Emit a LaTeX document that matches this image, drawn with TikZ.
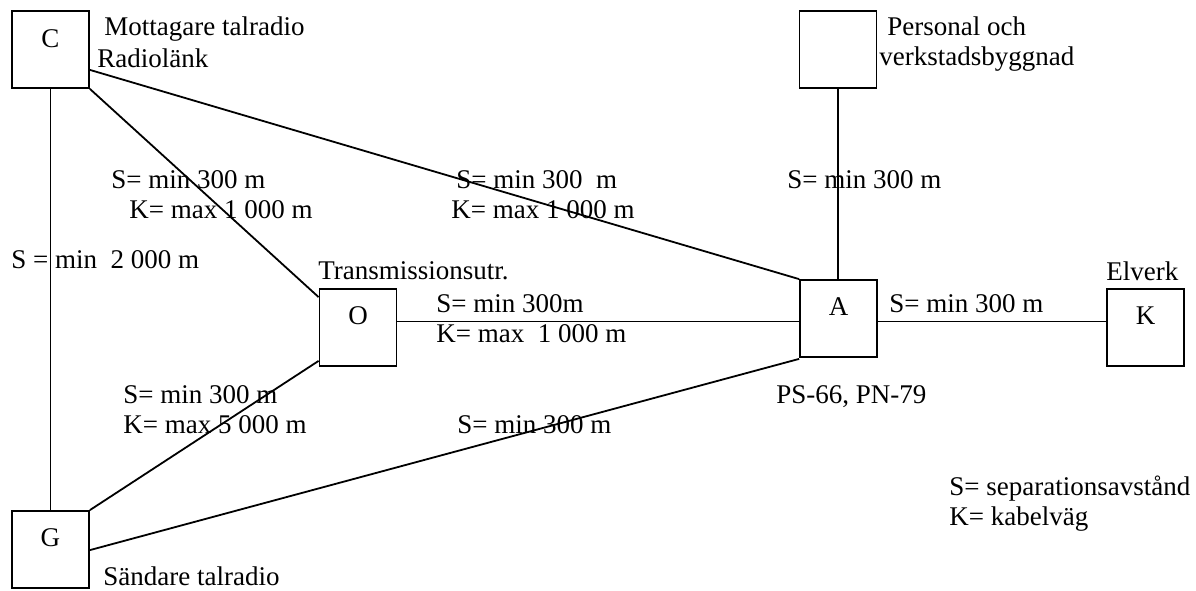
\documentclass[tikz,border=0pt]{standalone}
\usepackage{fontspec}
\setmainfont{Liberation Serif}
\usetikzlibrary{calc}
\begin{document}
\begin{tikzpicture}[x=0.5pt,y=-0.5pt,
  every node/.style={font=\fontsize{13.5}{16}\selectfont},
  box/.style={draw, line width=0.9pt, minimum width=38.5pt, minimum height=38.5pt, inner sep=0pt},
  lbl/.style={anchor=base west, inner sep=0pt},
  tag/.style={anchor=base, inner sep=0pt},
  wire/.style={line width=0.9pt}]
\useasboundingbox (0,0) rectangle (1196,590);

% stations
\node[box] (C) at (50.5,49.5) {};
\node[box] (P) at (838,49.5) {};
\node[box] (O) at (358,327.5) {};
\node[box] (A) at (838.5,318.5) {};
\node[box] (K) at (1145.5,327.5) {};
\node[box] (G) at (50.5,549.5) {};

% letters inside the boxes
\node[tag] (Ct) at ($(C.north)+(0,37)$) {C};
\node[tag] (Ot) at ($(O.north)+(0,36)$) {O};
\node[tag] (At) at ($(A.north)+(0,36)$) {A};
\node[tag] (Kt) at ($(K.north)+(0,36)$) {K};
\node[tag] (Gt) at ($(G.north)+(0,36)$) {G};

% connections
\draw[wire] (C.south) -- (G.north);
\draw[wire] (C.south east) -- ($(O.north west)+(0,9)$);
\draw[wire] ($(C.south east)+(0,-19)$) -- (A.north west);
\draw[wire] (G.north east) -- ($(O.south west)+(0,-6)$);
\draw[wire] ($(G.north east)+(0,40)$) -- ($(A.south west)+(0,1)$);
\draw[wire] (P.south) -- (P.south |- A.north);
\coordinate (oa) at ($(O.east)+(0,-6)$);
\draw[wire] (oa) -- (oa -| A.west);
\coordinate (ak) at ($(A.east)+(0,3)$);
\draw[wire] (ak) -- (ak -| K.west);

% station names
\node[lbl] (l1) at (104,35) {Mottagare talradio};
\node[lbl] (l2) at (97,67) {Radiolänk};
\node[lbl] (l3) at (887,35) {Personal och};
\node[lbl] (l4) at (879,65) {verkstadsbyggnad};
\node[lbl] (l5) at (318,279) {Transmissionsutr.};
\node[lbl] (l6) at (1106,280) {Elverk};
\node[lbl] (l7) at (776,403) {PS-66, PN-79};
\node[lbl] (l8) at (103,585) {Sändare talradio};

% distances
\node[lbl] (d1) at (111,188) {S= min 300 m};
\node[lbl] (d2) at (129,218) {K= max 1 000 m};
\node[lbl] (d3) at (456,188) {S= min 300\ \ m};
\node[lbl] (d4) at (451,218) {K= max 1 000 m};
\node[lbl] (d5) at (787,188) {S= min 300 m};
\node[lbl] (d6) at (11,268) {S =\ min\ \ 2 000 m};
\node[lbl] (d7) at (436,312) {S= min 300m};
\node[lbl] (d8) at (436,342) {K= max\ \ 1 000 m};
\node[lbl] (d9) at (889,312) {S= min 300 m};
\node[lbl] (d10) at (123,403) {S= min 300 m};
\node[lbl] (d11) at (123,433) {K= max 5 000 m};
\node[lbl] (d12) at (457,433) {S= min 300 m};

% legend
\node[lbl] (g1) at (949,495) {S= separationsavstånd};
\node[lbl] (g2) at (949,525) {K= kabelväg};
\end{tikzpicture}
\end{document}
